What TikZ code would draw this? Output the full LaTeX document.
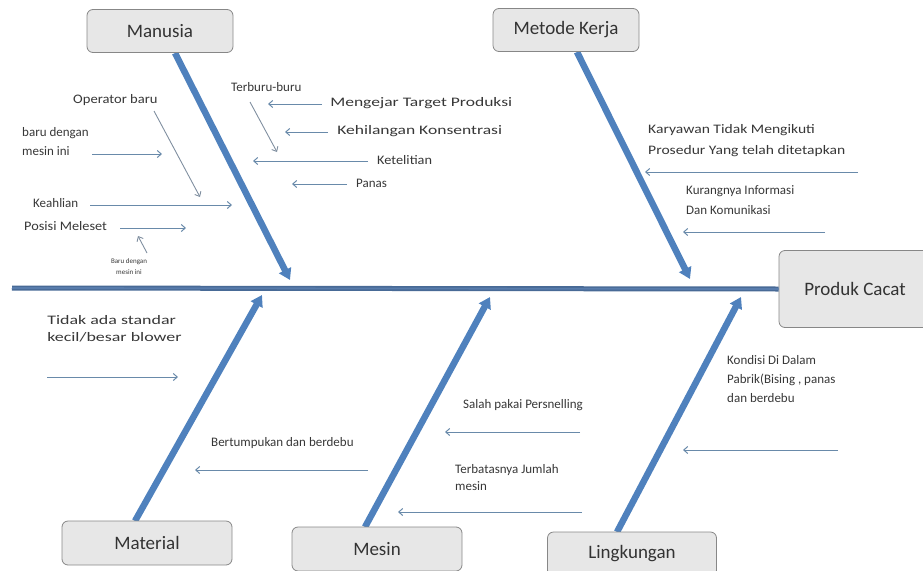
\documentclass[tikz,border=0pt]{standalone}
\usepackage{fontspec}
\setmainfont{Carlito}
\usetikzlibrary{arrows.meta}
\definecolor{bonefill}{RGB}{79,129,189}
\definecolor{spinecol}{RGB}{72,106,150}
\definecolor{spinemid}{RGB}{88,124,172}
\definecolor{causecol}{RGB}{105,138,170}
\definecolor{notecol}{RGB}{128,143,160}
\definecolor{txt}{RGB}{55,55,55}
\definecolor{boxfill}{RGB}{231,231,231}
\definecolor{boxedge}{RGB}{135,135,135}
\begin{document}
\begin{tikzpicture}[x=1pt,y=-1pt,
  catbox/.style={draw=boxedge, fill=boxfill, rounded corners=6pt, line width=0.8pt,
    minimum width=146pt, minimum height=43pt, inner sep=0pt,
    font=\fontsize{19}{22}\selectfont, text=black!80},
  lbl/.style={anchor=west, inner sep=0pt, text=txt, align=left,
    font=\fontsize{13}{19}\selectfont},
  stretched/.style={transform shape, xscale=#1},
  tinylbl/.style={inner sep=0pt, text=txt, align=center,
    font=\fontsize{7}{11}\selectfont},
  cause/.style={draw=causecol, line width=1pt, -{Straight Barb[length=4pt,width=7pt]}},
  note/.style={draw=notecol, line width=0.9pt, -{Straight Barb[length=4pt,width=7pt]}},
  bone/.style={draw=bonefill, line width=6.5pt, -{Triangle[width=13pt,length=11pt]}}
]
\useasboundingbox (0,0) rectangle (923,570);

% bone end points
\coordinate (manT) at (175,53);  \coordinate (manH) at (290,280);
\coordinate (metT) at (577,52);  \coordinate (metH) at (690,279);
\coordinate (matT) at (135,521); \coordinate (matH) at (262,295);
\coordinate (mesT) at (365,527); \coordinate (mesH) at (490,297);
\coordinate (linT) at (617,532); \coordinate (linH) at (741,297);
\coordinate (spineL) at (12,288);

% main bones
\draw[bone] (manT) -- (manH);
\draw[bone] (metT) -- (metH);
\draw[bone] (matT) -- (matH);
\draw[bone] (mesT) -- (mesH);
\draw[bone] (linT) -- (linH);

% category boxes and effect
\node[catbox] (man) at (160,31) {Manusia};
\node[catbox] (met) at (566,30) {Metode Kerja};
\node[catbox, minimum width=170pt, minimum height=44pt] (mat) at (147,543) {Material};
\node[catbox, minimum width=170pt, minimum height=44pt] (mes) at (377,549) {Mesin};
\node[catbox, minimum width=169pt, minimum height=44pt] (lin) at (632,554) {Lingkungan};
\node[catbox, minimum width=152pt, minimum height=77pt] (prod) at (855,289) {Produk Cacat};

% spine
\draw[spinecol, line width=5pt] (spineL) -- (prod.west);
\draw[spinemid, line width=1.8pt] (spineL) -- (prod.west);

% Manusia causes
\node[lbl, stretched=1.12] (op) at (73,100) {Operator baru};
\node[lbl] (bdm) at (22,142) {baru dengan\\mesin ini};
\node[lbl] (keah) at (33,203) {Keahlian};
\node[lbl, stretched=1.1] (pos) at (24,226) {Posisi Meleset};
\node[tinylbl] (bdm2) at (129,267) {Baru dengan\\mesin ini};
\node[lbl] (terb) at (231,87) {Terburu-buru};
\node[lbl, stretched=1.35] (meng) at (330,103) {Mengejar Target Produksi};
\node[lbl, stretched=1.35] (kehi) at (337,131) {Kehilangan Konsentrasi};
\node[lbl, stretched=1.1] (kete) at (377,160) {Ketelitian};
\node[lbl] (pana) at (356,183) {Panas};

\coordinate (a1s) at (92,154);  \coordinate (a1e) at (162,154);
\coordinate (a2s) at (154,111); \coordinate (a2e) at (200,197);
\coordinate (a3s) at (90,205);  \coordinate (a3e) at (232,205);
\coordinate (a4s) at (120,228); \coordinate (a4e) at (186,228);
\coordinate (a5s) at (147,253); \coordinate (a5e) at (138,236);
\coordinate (a6s) at (322,104); \coordinate (a6e) at (268,104);
\coordinate (a7s) at (328,132); \coordinate (a7e) at (285,132);
\coordinate (a8s) at (368,161); \coordinate (a8e) at (253,161);
\coordinate (a9s) at (347,184); \coordinate (a9e) at (292,184);
\coordinate (a10s) at (250,102); \coordinate (a10e) at (277,152);
\draw[cause] (a1s) -- (a1e);
\draw[note] (a2s) -- (a2e);
\draw[cause] (a3s) -- (a3e);
\draw[cause] (a4s) -- (a4e);
\draw[note] (a5s) -- (a5e);
\draw[cause] (a6s) -- (a6e);
\draw[cause] (a7s) -- (a7e);
\draw[cause] (a8s) -- (a8e);
\draw[cause] (a9s) -- (a9e);
\draw[note] (a10s) -- (a10e);

% Metode Kerja causes
\node[lbl, stretched=1.2, font=\fontsize{13}{21}\selectfont] (kary) at (648,141) {Karyawan Tidak Mengikuti\\Prosedur Yang telah ditetapkan};
\node[lbl, font=\fontsize{13}{20}\selectfont] (kura) at (686,200) {Kurangnya Informasi\\Dan Komunikasi};
\coordinate (b1s) at (858,172); \coordinate (b1e) at (645,172);
\coordinate (b2s) at (825,232); \coordinate (b2e) at (683,232);
\draw[cause] (b1s) -- (b1e);
\draw[cause] (b2s) -- (b2e);

% Material causes
\node[lbl, stretched=1.38, font=\fontsize{13}{17}\selectfont] (tida) at (47,329) {Tidak ada standar\\kecil/besar blower};
\node[lbl] (bert) at (211,443) {Bertumpukan dan berdebu};
\coordinate (c1s) at (47,377);  \coordinate (c1e) at (178,377);
\coordinate (c2s) at (368,470); \coordinate (c2e) at (195,470);
\draw[cause] (c1s) -- (c1e);
\draw[cause] (c2s) -- (c2e);

% Mesin causes
\node[lbl] (sala) at (463,405) {Salah pakai Persnelling};
\node[lbl, font=\fontsize{13}{17}\selectfont] (terba) at (455,478) {Terbatasnya Jumlah\\mesin};
\coordinate (d1s) at (580,432); \coordinate (d1e) at (445,432);
\coordinate (d2s) at (582,512); \coordinate (d2e) at (398,512);
\draw[cause] (d1s) -- (d1e);
\draw[cause] (d2s) -- (d2e);

% Lingkungan causes
\node[lbl, font=\fontsize{13}{19}\selectfont] (kond) at (727,379) {Kondisi Di Dalam\\Pabrik(Bising , panas\\dan berdebu};
\coordinate (e1s) at (838,450); \coordinate (e1e) at (683,450);
\draw[cause] (e1s) -- (e1e);
\end{tikzpicture}
\end{document}
